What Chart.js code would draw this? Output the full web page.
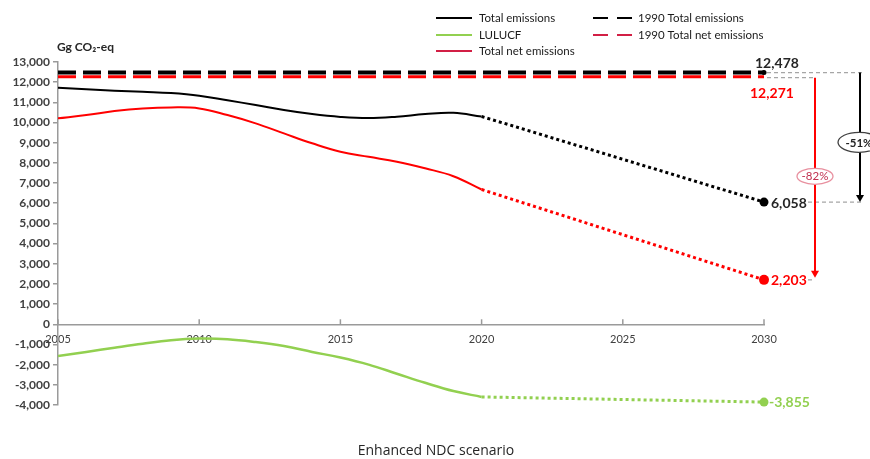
<!DOCTYPE html>
<html>
<head>
<meta charset="utf-8">
<script src="https://cdn.jsdelivr.net/npm/chart.js@4/dist/chart.umd.min.js"></script>
<style>
html,body{margin:0;padding:0;background:#fff;}
#wrap{width:870px;height:459px;position:relative;}
</style>
</head>
<body>
<div id="wrap"><canvas id="c"></canvas></div>
<script>
// ---- Data ----
const years = [2005,2006,2007,2008,2009,2010,2011,2012,2013,2014,2015,2016,2017,2018,2019,2020];
const totalEmissions = [11730,11650,11580,11520,11460,11330,11100,10870,10620,10420,10280,10220,10290,10420,10480,10300];
const totalNetEmissions = [10210,10370,10570,10700,10750,10700,10370,9960,9460,8970,8550,8300,8060,7730,7340,6680];
const lulucf = [-1570,-1370,-1160,-960,-790,-710,-740,-880,-1080,-1370,-1650,-2000,-2450,-2900,-3310,-3600];
const projYears = [2020, 2030];
const totalProj = [10300, 6058];
const netProj = [6680, 2203];
const lulucfProj = [-3600, -3855];
const total1990 = 12478;
const net1990 = 12271;
const xTicks = [2005, 2010, 2015, 2020, 2025, 2030];
const yMin = -4000, yMax = 13000, yStep = 1000;
const reduction = {total: '-51%', net: '-82%'};

const pts = (xs, ys) => xs.map((x, i) => ({x: x, y: ys[i]}));
const fmt = v => v.toLocaleString('en-US');

const RED = '#ff0000', GREEN = '#92d050', BLACK = '#000000', CRIMSON = '#d21f45';
const FONT = 'Lato, "Liberation Sans", sans-serif';

const annot = {
  id: 'annot',
  afterDatasetsDraw(chart) {
    const ctx = chart.ctx, xs = chart.scales.x, ys = chart.scales.y;
    const last = projYears[projYears.length - 1];
    const x30 = xs.getPixelForValue(last);
    const yT90 = ys.getPixelForValue(total1990);
    const yN90 = ys.getPixelForValue(net1990);
    const yT30 = ys.getPixelForValue(totalProj[totalProj.length - 1]);
    const yN30 = ys.getPixelForValue(netProj[netProj.length - 1]);
    const yL30 = ys.getPixelForValue(lulucfProj[lulucfProj.length - 1]);
    const y0 = ys.getPixelForValue(0);
    const arrowBX = x30 + 96, arrowRX = x30 + 51;

    ctx.save();
    // x axis tick marks (upward)
    ctx.strokeStyle = '#9a9a9a'; ctx.lineWidth = 1.5;
    xTicks.forEach(t => {
      const px = xs.getPixelForValue(t);
      ctx.beginPath(); ctx.moveTo(px, y0); ctx.lineTo(px, y0 - 5); ctx.stroke();
    });

    // gray dashed guides
    ctx.strokeStyle = '#a6a6a6'; ctx.lineWidth = 1.3; ctx.setLineDash([4, 3]);
    ctx.beginPath(); ctx.moveTo(x30 + 3, yT90); ctx.lineTo(arrowBX + 2, yT90); ctx.stroke();
    ctx.beginPath(); ctx.moveTo(x30 + 3, yN90 + 1); ctx.lineTo(arrowRX, yN90 + 1); ctx.stroke();
    ctx.beginPath(); ctx.moveTo(x30 + 44, yT30); ctx.lineTo(arrowBX + 2, yT30); ctx.stroke();
    ctx.beginPath(); ctx.moveTo(x30 + 44, yN30); ctx.lineTo(arrowRX, yN30); ctx.stroke();
    ctx.setLineDash([]);

    // arrows
    function arrow(x, yA, yB, color, w) {
      ctx.strokeStyle = color; ctx.fillStyle = color; ctx.lineWidth = w;
      ctx.beginPath(); ctx.moveTo(x, yA); ctx.lineTo(x, yB - 6); ctx.stroke();
      ctx.beginPath(); ctx.moveTo(x - 4, yB - 7); ctx.lineTo(x + 4, yB - 7); ctx.lineTo(x, yB); ctx.closePath(); ctx.fill();
    }
    arrow(arrowBX, yT90, yT30, BLACK, 2);
    arrow(arrowRX, yN90 + 1, yN30 - 2, RED, 2);

    // ellipses
    function ell(cx, cy, rx, ry, stroke, txt, tcol, bold) {
      ctx.beginPath(); ctx.ellipse(cx, cy, rx, ry, 0, 0, Math.PI * 2);
      ctx.fillStyle = '#fff'; ctx.fill();
      ctx.strokeStyle = stroke; ctx.lineWidth = 1.3; ctx.stroke();
      ctx.fillStyle = tcol; ctx.font = (bold ? 'bold ' : '') + '11.5px ' + FONT;
      ctx.textAlign = 'center'; ctx.textBaseline = 'middle';
      ctx.fillText(txt, cx, cy + 0.5);
    }
    ell(arrowBX - 1, (yT90 + yT30) / 2 + 5, 21, 10, '#404040', reduction.total, '#222', true);
    ell(arrowRX, (yN90 + yN30) / 2 - 2, 18, 8, '#e8909f', reduction.net, '#c0304f', false);

    // value labels
    ctx.font = 'bold 14px ' + FONT; ctx.textBaseline = 'middle'; ctx.textAlign = 'left';
    ctx.fillStyle = '#262626'; ctx.fillText(fmt(total1990), x30 - 9, yT90 - 9);
    ctx.fillStyle = RED; ctx.fillText(fmt(net1990), x30 - 14, yN90 + 17);
    ctx.fillStyle = '#262626'; ctx.fillText(fmt(totalProj[1]), x30 + 7, yT30 + 1);
    ctx.fillStyle = RED; ctx.fillText(fmt(netProj[1]), x30 + 7, yN30 + 1);
    ctx.fillStyle = GREEN; ctx.fillText(fmt(lulucfProj[1]), x30 + 5, yL30);
    ctx.restore();
  },
  afterDraw(chart) {
    const ctx = chart.ctx;
    ctx.save();
    // unit label
    ctx.fillStyle = '#262626'; ctx.font = 'bold 12px ' + FONT;
    ctx.textAlign = 'left'; ctx.textBaseline = 'middle';
    ctx.fillText('Gg CO\u2082-eq', 57, 47);
    // bottom caption
    ctx.fillStyle = '#262626'; ctx.font = '14px "Open Sans", sans-serif'; ctx.textAlign = 'center';
    ctx.fillText('Enhanced NDC scenario', 436, 451);
    // legend
    ctx.font = '11.5px ' + FONT; ctx.textAlign = 'left'; ctx.fillStyle = '#1a1a1a';
    const rows = [
      {x: 436, y: 18, c: BLACK, dash: false, t: 'Total emissions'},
      {x: 436, y: 35, c: GREEN, dash: false, t: 'LULUCF'},
      {x: 436, y: 51, c: CRIMSON, dash: false, t: 'Total net emissions'},
      {x: 593, y: 18, c: BLACK, dash: true, t: '1990 Total emissions'},
      {x: 593, y: 35, c: CRIMSON, dash: true, t: '1990 Total net emissions'}
    ];
    rows.forEach(r => {
      ctx.strokeStyle = r.c; ctx.lineWidth = 2;
      if (r.dash) {
        ctx.beginPath(); ctx.moveTo(r.x, r.y); ctx.lineTo(r.x + 15, r.y); ctx.stroke();
        ctx.beginPath(); ctx.moveTo(r.x + 24, r.y); ctx.lineTo(r.x + 39, r.y); ctx.stroke();
        ctx.fillText(r.t, r.x + 45, r.y);
      } else {
        ctx.beginPath(); ctx.moveTo(r.x, r.y); ctx.lineTo(r.x + 36, r.y); ctx.stroke();
        ctx.fillText(r.t, r.x + 43, r.y);
      }
    });
    ctx.restore();
  }
};

new Chart(document.getElementById('c'), {
  type: 'line',
  data: {
    datasets: [
      {data: pts(projYears, totalProj), borderColor: BLACK, borderWidth: 3, borderDash: [3, 3], borderCapStyle: 'butt',
       pointRadius: [0, 4.5], pointBackgroundColor: BLACK, pointBorderWidth: 0, tension: 0, clip: false},
      {data: pts(projYears, netProj), borderColor: RED, borderWidth: 3, borderDash: [3, 3],
       pointRadius: [0, 5], pointBackgroundColor: RED, pointBorderWidth: 0, tension: 0, clip: false},
      {data: pts(projYears, lulucfProj), borderColor: GREEN, borderWidth: 3, borderDash: [3, 3],
       pointRadius: [0, 4.5], pointBackgroundColor: GREEN, pointBorderWidth: 0, tension: 0, clip: false},
      {data: pts(years, totalEmissions), borderColor: BLACK, borderWidth: 2, pointRadius: 0, tension: 0.4},
      {data: pts(years, totalNetEmissions), borderColor: RED, borderWidth: 2, pointRadius: 0, tension: 0.4},
      {data: pts(years, lulucf), borderColor: GREEN, borderWidth: 2.5, pointRadius: 0, tension: 0.4},
      {data: pts([years[0], projYears[1]], [total1990, total1990]), borderColor: BLACK, borderWidth: 4, borderDash: [18, 7],
       pointRadius: [0, 2.5], pointBackgroundColor: BLACK, pointBorderWidth: 0, clip: false},
      {data: pts([years[0], projYears[1]], [net1990, net1990]), borderColor: RED, borderWidth: 3, borderDash: [18, 7],
       pointRadius: 0}
    ]
  },
  options: {
    responsive: true,
    maintainAspectRatio: false,
    animation: false,
    events: [],
    layout: {padding: {left: 0, right: 106, top: 62, bottom: 54}},
    plugins: {legend: {display: false}, tooltip: {enabled: false}},
    scales: {
      x: {
        type: 'linear', min: 2005, max: 2030, position: {y: 0},
        afterBuildTicks: s => { s.ticks = xTicks.map(v => ({value: v})); },
        grid: {display: true, drawOnChartArea: false, drawTicks: false},
        border: {color: '#9a9a9a', width: 1.5},
        ticks: {padding: 9, color: '#404040', font: {family: FONT, size: 11}, callback: v => String(v), maxRotation: 0, autoSkip: false}
      },
      y: {
        min: yMin, max: yMax,
        afterFit: s => { s.width = 58; },
        grid: {drawOnChartArea: false, drawTicks: true, tickLength: 5, color: '#9a9a9a', lineWidth: 1.5},
        border: {color: '#9a9a9a', width: 1.5},
        ticks: {stepSize: yStep, padding: 3, color: '#404040', font: {family: FONT, size: 12, weight: 'bold'},
                callback: v => fmt(v)}
      }
    }
  },
  plugins: [annot]
});
</script>
</body>
</html>
